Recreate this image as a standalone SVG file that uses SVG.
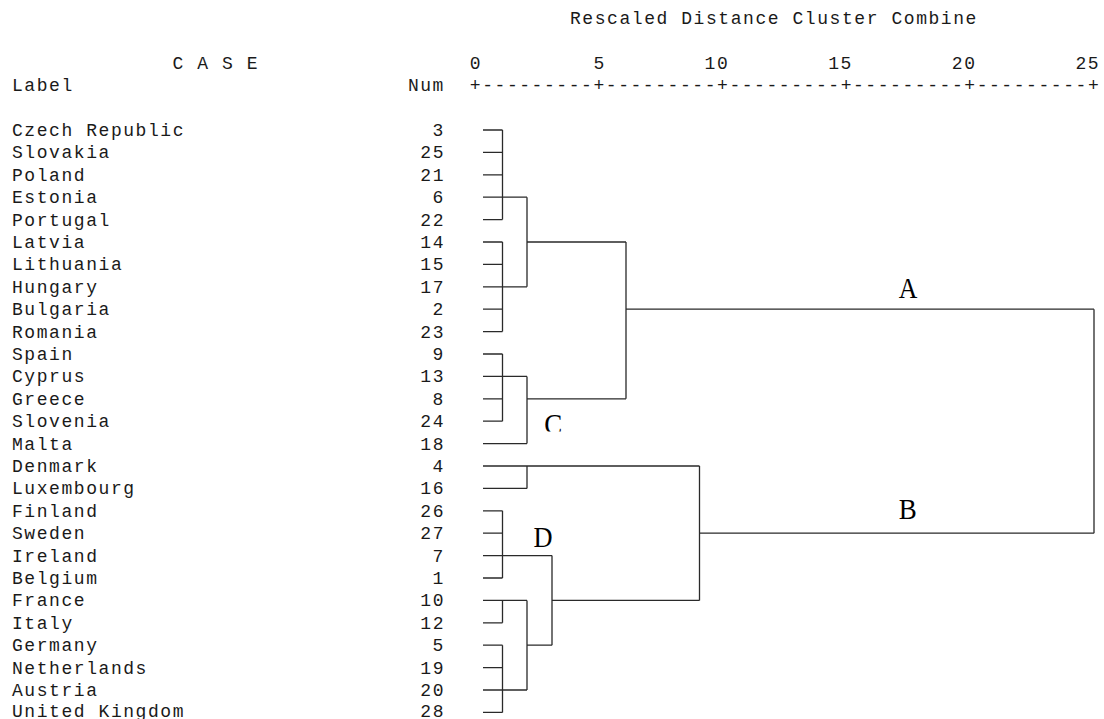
<svg xmlns="http://www.w3.org/2000/svg" width="1104" height="719" viewBox="0 0 1104 719">
<style>
.t{font-family:"Liberation Mono","DejaVu Sans Mono",monospace;font-size:18px;letter-spacing:1.56px;fill:#1a1a1a}
.c{fill:none;stroke:#2a2a2a;stroke-width:1.3}
.L{font-family:"Liberation Serif","Times New Roman",serif;font-size:30px;fill:#000}
</style>
<defs>
<clipPath id="clipC"><rect x="530" y="400" width="60" height="31.5"/></clipPath>
</defs>
<rect width="1104" height="719" fill="#fff"/>
<g id="header">
<text class="t" x="570" y="24">Rescaled Distance Cluster Combine</text>
<text class="t" x="172.5" y="68.8">C A S E</text>
<text class="t" x="469.8" y="68.8">0</text>
<text class="t" x="593.4" y="68.8">5</text>
<text class="t" x="704.6" y="68.8">10</text>
<text class="t" x="828.2" y="68.8">15</text>
<text class="t" x="951.8" y="68.8">20</text>
<text class="t" x="1075.4" y="68.8">25</text>
<text class="t" x="12" y="91.2">Label</text>
<text class="t" x="407.9" y="91.2">Num</text>
<text class="t" x="469.8" y="91.2">+---------+---------+---------+---------+---------+</text>
</g>
<g id="leaf-3"><text class="t" x="12" y="136">Czech Republic</text><text class="t" x="432.6" y="136">3</text></g>
<g id="leaf-25"><text class="t" x="12" y="158.4">Slovakia</text><text class="t" x="420.3" y="158.4">25</text></g>
<g id="leaf-21"><text class="t" x="12" y="180.8">Poland</text><text class="t" x="420.3" y="180.8">21</text></g>
<g id="leaf-6"><text class="t" x="12" y="203.2">Estonia</text><text class="t" x="432.6" y="203.2">6</text></g>
<g id="leaf-22"><text class="t" x="12" y="225.6">Portugal</text><text class="t" x="420.3" y="225.6">22</text></g>
<g id="leaf-14"><text class="t" x="12" y="248">Latvia</text><text class="t" x="420.3" y="248">14</text></g>
<g id="leaf-15"><text class="t" x="12" y="270.4">Lithuania</text><text class="t" x="420.3" y="270.4">15</text></g>
<g id="leaf-17"><text class="t" x="12" y="292.8">Hungary</text><text class="t" x="420.3" y="292.8">17</text></g>
<g id="leaf-2"><text class="t" x="12" y="315.2">Bulgaria</text><text class="t" x="432.6" y="315.2">2</text></g>
<g id="leaf-23"><text class="t" x="12" y="337.6">Romania</text><text class="t" x="420.3" y="337.6">23</text></g>
<g id="leaf-9"><text class="t" x="12" y="360">Spain</text><text class="t" x="432.6" y="360">9</text></g>
<g id="leaf-13"><text class="t" x="12" y="382.4">Cyprus</text><text class="t" x="420.3" y="382.4">13</text></g>
<g id="leaf-8"><text class="t" x="12" y="404.8">Greece</text><text class="t" x="432.6" y="404.8">8</text></g>
<g id="leaf-24"><text class="t" x="12" y="427.2">Slovenia</text><text class="t" x="420.3" y="427.2">24</text></g>
<g id="leaf-18"><text class="t" x="12" y="449.6">Malta</text><text class="t" x="420.3" y="449.6">18</text></g>
<g id="leaf-4"><text class="t" x="12" y="472">Denmark</text><text class="t" x="432.6" y="472">4</text></g>
<g id="leaf-16"><text class="t" x="12" y="494.4">Luxembourg</text><text class="t" x="420.3" y="494.4">16</text></g>
<g id="leaf-26"><text class="t" x="12" y="516.8">Finland</text><text class="t" x="420.3" y="516.8">26</text></g>
<g id="leaf-27"><text class="t" x="12" y="539.2">Sweden</text><text class="t" x="420.3" y="539.2">27</text></g>
<g id="leaf-7"><text class="t" x="12" y="561.6">Ireland</text><text class="t" x="432.6" y="561.6">7</text></g>
<g id="leaf-1"><text class="t" x="12" y="584">Belgium</text><text class="t" x="432.6" y="584">1</text></g>
<g id="leaf-10"><text class="t" x="12" y="606.4">France</text><text class="t" x="420.3" y="606.4">10</text></g>
<g id="leaf-12"><text class="t" x="12" y="628.8">Italy</text><text class="t" x="420.3" y="628.8">12</text></g>
<g id="leaf-5"><text class="t" x="12" y="651.2">Germany</text><text class="t" x="432.6" y="651.2">5</text></g>
<g id="leaf-19"><text class="t" x="12" y="673.6">Netherlands</text><text class="t" x="420.3" y="673.6">19</text></g>
<g id="leaf-20"><text class="t" x="12" y="696">Austria</text><text class="t" x="420.3" y="696">20</text></g>
<g id="leaf-28"><text class="t" x="12" y="717.4">United Kingdom</text><text class="t" x="420.3" y="717.4">28</text></g>
<g id="connectors">
<path class="c" d="M483 130H502.5M483 152.4H502.5M483 174.8H502.5M483 197.2H502.5M483 219.6H502.5M502.5 130V219.6M502.5 197.2H527"/>
<path class="c" d="M483 242H502.5M483 264.4H502.5M483 286.8H502.5M483 309.2H502.5M483 331.6H502.5M502.5 242V331.6M502.5 286.8H527"/>
<path class="c" d="M527 197.2V286.8M527 242H626"/>
<path class="c" d="M483 354H502.5M483 376.4H502.5M483 398.8H502.5M483 421.2H502.5M502.5 354V421.2M502.5 376.4H527M483 443.6H527M527 376.4V443.6M527 398.8H626"/>
<path class="c" d="M626 242V398.8M626 309.2H1094"/>
<path class="c" d="M483 466H699.5M483 488.4H527M527 466V488.4"/>
<path class="c" d="M483 510.8H502.5M483 533.2H502.5M483 555.6H502.5M483 578H502.5M502.5 510.8V578M502.5 555.6H552"/>
<path class="c" d="M483 600.4H502.5M483 622.8H502.5M502.5 600.4V622.8M502.5 600.4H527"/>
<path class="c" d="M483 645.2H502.5M483 667.6H502.5M483 690H502.5M483 712.4H502.5M502.5 645.2V712.4M502.5 690H527"/>
<path class="c" d="M527 600.4V690M527 645.2H552M552 555.6V645.2M552 600.4H699.5"/>
<path class="c" d="M699.5 466V600.4M699.5 533.2H1094M1094 309.2V533.2"/>
</g>
<g id="cluster-labels">
<text class="L" transform="matrix(0.86 0 0 1 898.7 298.3)">A</text>
<text class="L" transform="matrix(0.9 0 0 1 898.7 518.5)">B</text>
<g clip-path="url(#clipC)"><text class="L" transform="matrix(0.9 0 0 1 544.3 433.5)">C</text></g>
<text class="L" transform="matrix(0.88 0 0 1 533.5 546.7)">D</text>
</g>
</svg>
